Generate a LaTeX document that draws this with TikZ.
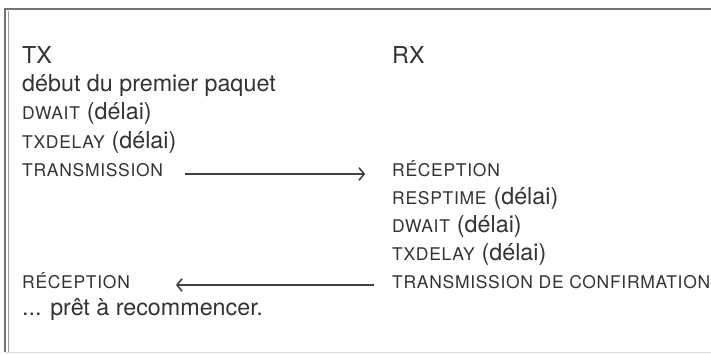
\documentclass[tikz,border=0pt]{standalone}
\usepackage{fontspec}
\setmainfont{TeX Gyre Heros}
\usetikzlibrary{arrows.meta}
\newcommand{\pc}[1]{{\fontsize{17.5}{17.5}\selectfont\addfontfeature{LetterSpace=4}#1}}
\begin{document}
\begin{tikzpicture}[x=1pt,y=-1pt,>={Straight Barb[length=5pt,width=12pt,line width=1.6pt,round]},
  txt/.style={anchor=base west,inner sep=0pt,text=black!80,font=\fontsize{23.3}{28}\selectfont},
  fleche/.style={->,line width=1.1pt,draw=black!75}]
  \useasboundingbox (0,0) rectangle (711,355);
  % cadre
  \draw[black!55,line width=1.4pt] (5,352) -- (5,9) -- (711,9);
  \draw[black!40,line width=0.6pt] (8,352) -- (8,11);
  \draw[black!15,line width=0.8pt] (5,352) -- (711,352);
  % colonne TX
  \node[txt] (tx) at (22,64) {TX};
  \node[txt] (debut) at (22,92) {début du premier paquet};
  \node[txt] (dwaittx) at (22,120) {\pc{DWAIT}\hspace{0.3em}(délai)};
  \node[txt] (txdelaytx) at (22,149) {\pc{TXDELAY}\hspace{0.3em}(délai)};
  \node[txt] (transtx) at (22,177) {\pc{TRANSMISSION}};
  \node[txt] (rectx) at (22,288) {\pc{RÉCEPTION}};
  \node[txt] (pret) at (22,315) {... prêt à recommencer.};
  % colonne RX
  \node[txt] (rx) at (392,64) {RX};
  \node[txt] (recrx) at (392,177) {\pc{RÉCEPTION}};
  \node[txt] (resptime) at (392,205) {\pc{RESPTIME}\hspace{0.3em}(délai)};
  \node[txt] (dwaitrx) at (392,233) {\pc{DWAIT}\hspace{0.3em}(délai)};
  \node[txt] (txdelayrx) at (392,260) {\pc{TXDELAY}\hspace{0.3em}(délai)};
  \node[txt] (transrx) at (392,288) {\pc{TRANSMISSION DE CONFIRMATION}};
  % messages
  \draw[fleche,shorten <=22pt,shorten >=27pt] ([yshift=3pt]transtx.base east) -- ([yshift=3pt]recrx.base west);
  \draw[fleche,shorten <=18pt,shorten >=46pt] ([yshift=3pt]transrx.base west) -- ([yshift=3pt]rectx.base east);
\end{tikzpicture}
\end{document}
